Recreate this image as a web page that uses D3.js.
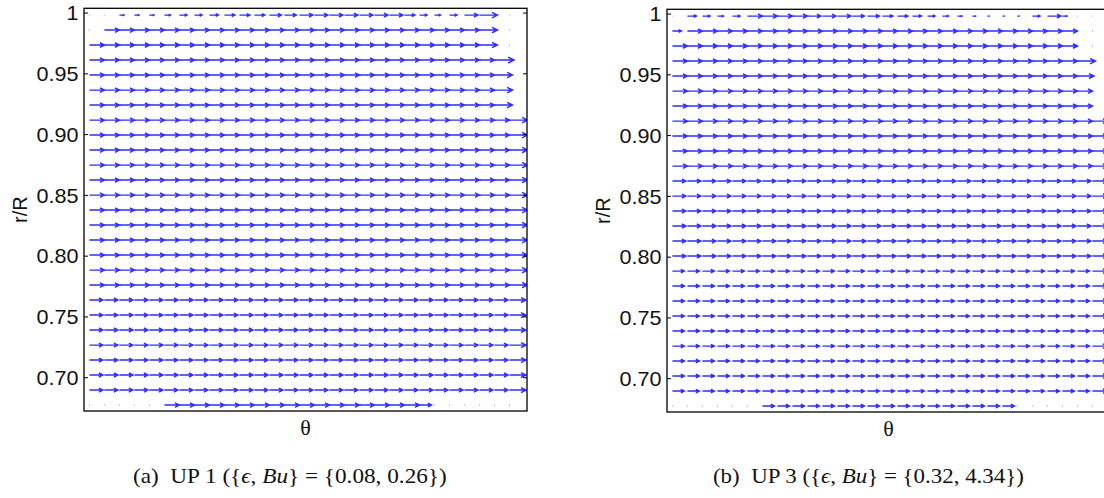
<!DOCTYPE html>
<html><head><meta charset="utf-8">
<script src="https://cdn.jsdelivr.net/npm/d3@7"></script>
<style>body{margin:0;background:#fff}svg{display:block}</style>
</head><body>
<svg id="c" width="1104" height="498"></svg>
<script>
// ---- data ----
// radial positions of the quiver rows (r/R), top to bottom
const rowsR = [0.9979,0.9856,0.9733,0.9609,0.9486,0.9362,0.9239,0.9115,0.8992,0.8869,
  0.8745,0.8622,0.8498,0.8375,0.8252,0.8128,0.8005,0.7881,0.7758,0.7635,
  0.7511,0.7388,0.7264,0.7141,0.7018,0.6894,0.6771];
// azimuthal grid columns (theta index)
const thetaCols = [0,1,2,3,4,5,6,7,8,9,10,11,12,13,14,15,16,17,18,19,20,21,22,23,24,25,26,27,28];
const yTickValues = [0.70,0.75,0.80,0.85,0.90,0.95,1.0];
const yTickLabels = ["0.70","0.75","0.80","0.85","0.90","0.95","1"];
// azimuthal velocity per cell, in grid-spacing units: '0'-'9' = 0.0-0.9, 'a'-'f' = 1.0-1.5
const uA = [
  "00333455677788999999975459c00",
  "0aaaaaaaaaaaaaaaaaaaaaaaaac00",
  "aaaaaaaaaaaaaaaaaaaaaaaaaac00",
  "aaaaaaaaaaaaaaaaaaaaaaaaaaad0",
  "aaaaaaaaaaaaaaaaaaaaaaaaaaac0",
  "aaaaaaaaaaaaaaaaaaaaaaaaaaac0",
  "aaaaaaaaaaaaaaaaaaaaaaaaaaac0",
  "aaaaaaaaaaaaaaaaaaaaaaaaaaaac",
  "aaaaaaaaaaaaaaaaaaaaaaaaaaaac",
  "aaaaaaaaaaaaaaaaaaaaaaaaaaaac",
  "aaaaaaaaaaaaaaaaaaaaaaaaaaaac",
  "aaaaaaaaaaaaaaaaaaaaaaaaaaaac",
  "aaaaaaaaaaaaaaaaaaaaaaaaaaaac",
  "aaaaaaaaaaaaaaaaaaaaaaaaaaaac",
  "aaaaaaaaaaaaaaaaaaaaaaaaaaaac",
  "aaaaaaaaaaaaaaaaaaaaaaaaaaaac",
  "aaaaaaaaaaaaaaaaaaaaaaaaaaaac",
  "aaaaaaaaaaaaaaaaaaaaaaaaaaaac",
  "aaaaaaaaaaaaaaaaaaaaaaaaaaaac",
  "9999999999999999999999999999b",
  "9999999999999999999999999999b",
  "9999999999999999999999999999b",
  "9999999999999999999999999999b",
  "9999999999999999999999999999b",
  "9999999999999999999999999999b",
  "9999999999999999999999999999b",
  "00000aaaaaaaaaaaaaaaaa8000000"
];
const uB = [
  "06545aaaa99988776543211159300",
  "6aaaaaaaaaaaaaaaaaaaaaaaaaa00",
  "aaaaaaaaaaaaaaaaaaaaaaaaaaa00",
  "aaaaaaaaaaaaaaaaaaaaaaaaaaac0",
  "aaaaaaaaaaaaaaaaaaaaaaaaaaab0",
  "aaaaaaaaaaaaaaaaaaaaaaaaaaaa0",
  "aaaaaaaaaaaaaaaaaaaaaaaaaaaa0",
  "aaaaaaaaaaaaaaaaaaaaaaaaaaaaa",
  "aaaaaaaaaaaaaaaaaaaaaaaaaaaaa",
  "aaaaaaaaaaaaaaaaaaaaaaaaaaaaa",
  "aaaaaaaaaaaaaaaaaaaaaaaaaaaaa",
  "9999999999999999999999999999a",
  "9999999999999999999999999999a",
  "9999999999999999999999999999a",
  "9999999999999999999999999999a",
  "9999999999999999999999999999a",
  "9999999999999999999999999999a",
  "8888888888888888888888888888a",
  "8888888888888888888888888888a",
  "8888888888888888888888888888a",
  "8888888888888888888888888888a",
  "8888888888888888888888888888a",
  "8888888888888888888888888888a",
  "8888888888888888888888888888a",
  "8888888888888888888888888888a",
  "8888888888888888888888888888a",
  "00000088888888888888888000000"
];
const panelNames = ["(a)","(b)"];
const panelCaps = [
  {up:"UP 1", vals:"{0.08, 0.26})"},
  {up:"UP 3", vals:"{0.32, 4.34})"}
];

// ---- drawing ----
const svg = d3.select("#c");
const decode = ch => (ch >= "0" && ch <= "9") ? (+ch)/10 : 1 + (ch.charCodeAt(0)-97)/10;

const panels = [
  {u:uA, left:84, top:8.3, bottom:411, capX:133, capW:314},
  {u:uB, left:667, top:9.3, bottom:412, capX:713, capW:311}
];
const boxW = 443;

panels.forEach((p, pi) => {
  const x = d3.scaleLinear().domain([-0.36, 29.17]).range([p.left, p.left + boxW]);
  const y = d3.scaleLinear().domain([0.6722, 1.0035]).range([p.bottom, p.top]);
  const g = svg.append("g");
  const clipId = "clip" + pi;
  svg.append("clipPath").attr("id", clipId).append("rect")
    .attr("x", p.left).attr("y", p.top).attr("width", boxW).attr("height", p.bottom - p.top);

  const q = g.append("g").attr("clip-path", `url(#${clipId})`);
  const cells = [];
  rowsR.forEach((r, i) => {
    thetaCols.forEach((c, j) => {
      const ch = p.u[i][j];
      cells.push({r, c, u: ch === undefined ? 0 : decode(ch)});
    });
  });
  // zero-velocity points
  q.selectAll("circle.z").data(cells.filter(d => d.u === 0)).join("circle")
    .attr("cx", d => x(d.c)).attr("cy", d => y(d.r)).attr("r", 0.7)
    .attr("fill", "#a8a8ff");
  // arrows
  q.selectAll("path.a").data(cells.filter(d => d.u > 0)).join("path")
    .attr("d", d => {
      const x0 = x(d.c), x1 = x(d.c + d.u), yy = y(d.r);
      const L = x1 - x0, hl = 0.3 * L, hw = 0.15 * L;
      return `M${x0},${yy}L${x1},${yy}M${x1-hl},${yy-hw}L${x1},${yy}L${x1-hl},${yy+hw}`;
    })
    .attr("fill", "none").attr("stroke", "#2e2eff").attr("stroke-width", 1.45)
    .attr("stroke-linejoin", "miter");

  // axes
  const ax = d3.axisLeft(y).tickValues(yTickValues).tickFormat((d, i) => yTickLabels[i])
    .tickSizeInner(-4).tickSizeOuter(0).tickPadding(5);
  const ga = g.append("g").attr("transform", `translate(${p.left},0)`).call(ax);
  ga.select(".domain").remove();
  ga.selectAll(".tick line").attr("stroke", "#000").attr("stroke-width", 1);
  ga.selectAll(".tick text").attr("font-family", "Liberation Sans, Arial, sans-serif")
    .attr("font-size", 20).attr("fill", "#111")
    .attr("transform", "scale(1.08,1)").attr("dy", "0.36em");
  const axr = d3.axisRight(y).tickValues(yTickValues).tickFormat("").tickSizeInner(-4).tickSizeOuter(0);
  const gr = g.append("g").attr("transform", `translate(${p.left + boxW},0)`).call(axr);
  gr.select(".domain").remove();
  gr.selectAll(".tick line").attr("stroke", "#000");

  g.append("rect").attr("x", p.left).attr("y", p.top).attr("width", boxW).attr("height", p.bottom - p.top)
    .attr("fill", "none").attr("stroke", "#000").attr("stroke-width", 1.3);

  g.append("text").attr("transform", `translate(${p.left - 64},${(p.top + p.bottom)/2}) rotate(-90)`)
    .attr("text-anchor", "middle").attr("dy", "0.35em")
    .attr("font-family", "Liberation Sans, Arial, sans-serif").attr("font-size", 20).attr("fill", "#111")
    .text("r/R");
  g.append("text").attr("x", p.left + boxW/2).attr("y", p.bottom + 16).attr("dy", "0.35em")
    .attr("text-anchor", "middle").attr("font-family", "Liberation Serif, serif").attr("font-size", 22)
    .attr("fill", "#111").text("θ");

  // caption
  const cap = svg.append("text").attr("x", p.capX).attr("y", 483.5)
    .attr("font-family", "Liberation Serif, serif").attr("font-size", 21).attr("fill", "#111");
  cap.append("tspan").text(panelNames[pi] + "\u00a0\u00a0" + panelCaps[pi].up + " ({");
  cap.append("tspan").attr("font-style", "italic").text("\u03f5");
  cap.append("tspan").text(", ");
  cap.append("tspan").attr("font-style", "italic").text("Bu");
  cap.append("tspan").text("} = " + panelCaps[pi].vals);
  const w = cap.node().getComputedTextLength();
  cap.attr("transform", `translate(${p.capX},0) scale(${p.capW / w},1) translate(${-p.capX},0)`);
});
</script>
</body></html>
